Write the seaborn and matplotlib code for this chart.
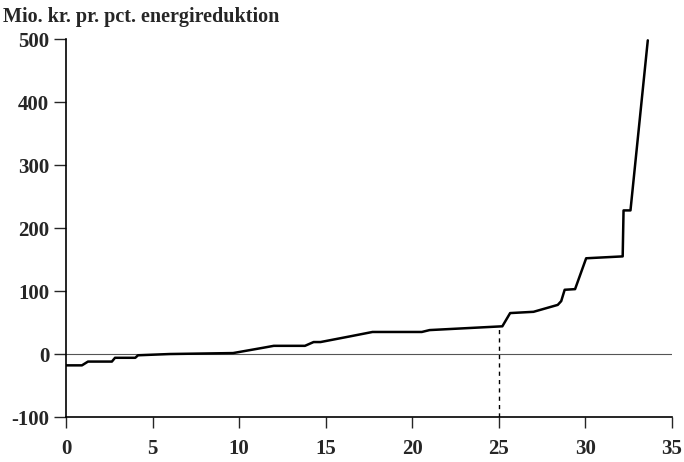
import numpy as np
import pandas as pd
import seaborn as sns
import matplotlib.pyplot as plt

# cumulative energy reduction (pct) vs marginal cost (mio. kr. per pct.)
reduction = [0, 0.92, 1.27, 2.65, 2.83, 4.0, 4.16, 6.0, 9.65, 11.4, 12.0, 13.8,
             14.3, 14.7, 16.4, 17.7, 20.55, 21.0, 25.2, 25.65, 27.0, 28.4, 28.6,
             28.8, 29.4, 30.04, 32.15, 32.2, 32.6, 33.6]
cost = [-18, -18, -12, -12, -6, -6, -2, 0, 1.5, 10, 13, 13,
        19, 19, 28, 35, 35, 38, 44, 65, 67, 78, 84,
        102, 103, 152, 155, 228, 228, 498]
cut_x = 25
x_ticks = [0, 5, 10, 15, 20, 25, 30, 35]
y_ticks = [-100, 0, 100, 200, 300, 400, 500]

df = pd.DataFrame({"reduktion": reduction, "omkostning": cost})

sns.set_style("ticks")
plt.rcParams["font.family"] = ["Liberation Serif", "DejaVu Serif"]
plt.rcParams["axes.unicode_minus"] = False

fig = plt.figure(figsize=(6.84, 4.62), dpi=100)
ax = fig.add_axes([0.0965, 0.0974, 0.886, 0.818])

ax.axhline(0, color="#555555", lw=0.8, zorder=1)
sns.lineplot(data=df, x="reduktion", y="omkostning", ax=ax, color="black",
             lw=1.8, sort=False, zorder=3)
cut_y = np.interp(cut_x, reduction, cost)
ax.plot([cut_x, cut_x], [y_ticks[0], cut_y], color="black", lw=1, ls=(0, (3, 3)))

ax.set_xlim(0, 35)
ax.set_ylim(-100, 500)
ax.set_xticks(x_ticks)
ax.set_yticks(y_ticks)
ax.set_xlabel("")
ax.set_ylabel("")
sns.despine(ax=ax)
for s in ["left", "bottom"]:
    ax.spines[s].set_linewidth(1.2)
    ax.spines[s].set_color("black")
ax.tick_params(axis="x", direction="out", length=8, width=1, pad=8, labelsize=15)
ax.tick_params(axis="y", direction="out", length=9, width=1, pad=3, labelsize=15)
for lab in ax.get_xticklabels() + ax.get_yticklabels():
    lab.set_fontweight("semibold")

fig.text(0.004, 0.985, "Mio. kr. pr. pct. energireduktion", fontsize=14.5,
         fontweight="semibold", va="top", ha="left")

fig.savefig("out.png", dpi=100)
